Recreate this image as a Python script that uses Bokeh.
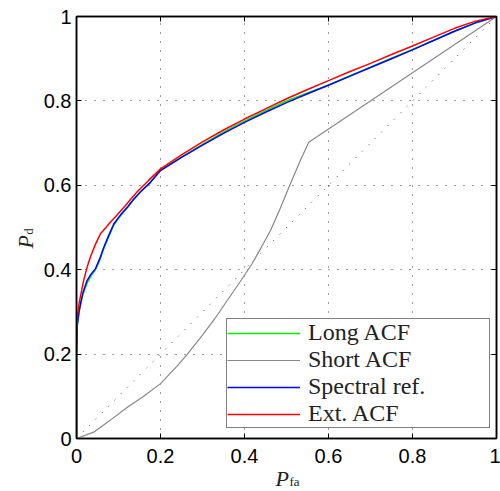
from math import pi
from bokeh.plotting import figure
from bokeh.models import (Legend, LegendItem, LinearAxis, FixedTicker, Label,
                          Range1d)
from bokeh.embed import file_html
from bokeh.resources import INLINE

# ---------------- data ----------------
tick_vals = [0, 0.2, 0.4, 0.6, 0.8, 1]
tick_labels = ["0", "0.2", "0.4", "0.6", "0.8", "1"]

chance_x = [0, 1]
chance_y = [0, 1]

ext_x = [0, 0, 0.002, 0.006, 0.012, 0.017, 0.025, 0.033, 0.045, 0.057, 0.07,
         0.081, 0.095, 0.113, 0.13, 0.144, 0.171, 0.2, 0.25, 0.3, 0.35, 0.4,
         0.45, 0.5, 0.55, 0.6, 0.65, 0.7, 0.75, 0.8, 0.85, 0.9, 0.95, 1.0]
ext_y = [0, 0.22, 0.29, 0.32, 0.35, 0.374, 0.405, 0.43, 0.46, 0.485, 0.50,
         0.513, 0.528, 0.548, 0.568, 0.584, 0.611, 0.639, 0.672, 0.703, 0.731,
         0.757, 0.781, 0.805, 0.827, 0.848, 0.869, 0.889, 0.910, 0.930, 0.951,
         0.972, 0.989, 1.0]

spec_x = [0, 0, 0.002, 0.006, 0.0095, 0.015, 0.025, 0.035, 0.045, 0.055,
          0.065, 0.077, 0.089, 0.105, 0.121, 0.136, 0.152, 0.176, 0.2, 0.25,
          0.3, 0.35, 0.4, 0.45, 0.5, 0.55, 0.6, 0.65, 0.7, 0.75, 0.8, 0.85,
          0.9, 0.95, 1.0]
spec_y = [0, 0.2, 0.27, 0.30, 0.319, 0.345, 0.374, 0.39, 0.402, 0.425, 0.453,
          0.482, 0.509, 0.53, 0.548, 0.567, 0.584, 0.607, 0.635, 0.666, 0.695,
          0.723, 0.749, 0.773, 0.796, 0.817, 0.837, 0.858, 0.879, 0.900, 0.921,
          0.943, 0.965, 0.985, 1.0]

long_x = spec_x
long_y = [0, 0.2, 0.27, 0.30, 0.315, 0.34, 0.368, 0.386, 0.40, 0.422, 0.45,
          0.479, 0.506, 0.528, 0.547, 0.566, 0.584, 0.607, 0.636, 0.667, 0.697,
          0.726, 0.752, 0.777, 0.800, 0.819, 0.838, 0.859, 0.880, 0.901, 0.922,
          0.943, 0.965, 0.985, 1.0]

short_x = [0, 0.041, 0.08, 0.121, 0.16, 0.2, 0.24, 0.264, 0.3, 0.33, 0.359,
           0.39, 0.418, 0.44, 0.462, 0.485, 0.506, 0.533, 0.553, 1.0]
short_y = [0, 0.015, 0.043, 0.074, 0.10, 0.13, 0.172, 0.2, 0.245, 0.285,
           0.327, 0.372, 0.414, 0.453, 0.493, 0.545, 0.596, 0.659, 0.702, 1.0]

series_names = ["Long ACF", "Short ACF", "Spectral ref.", "Ext. ACF"]
series_colors = ["#00ee00", "#888888", "#0000ff", "#ff0000"]

# ---------------- figure ----------------
p = figure(width=500, height=491, output_backend="svg", toolbar_location=None,
           x_range=Range1d(0, 1), y_range=Range1d(0, 1),
           min_border_left=76, min_border_right=4, min_border_top=16,
           min_border_bottom=53, background_fill_color="white",
           border_fill_color="white")
p.outline_line_color = "black"
p.outline_line_width = 1.5

p.add_layout(LinearAxis(), "above")
p.add_layout(LinearAxis(), "right")

overrides = {v: s for v, s in zip(tick_vals, tick_labels)}
for ax in p.axis:
    ax.ticker = FixedTicker(ticks=tick_vals)
    ax.major_label_overrides = overrides
    ax.minor_tick_line_color = None
    ax.major_tick_in = 5
    ax.major_tick_out = 0
    ax.major_tick_line_color = "black"
    ax.major_tick_line_width = 1
    ax.axis_line_color = "black"
    ax.axis_line_width = 1.5
    ax.major_label_text_font = "Liberation Sans"
    ax.major_label_text_font_size = "20px"
    ax.major_label_text_color = "black"
for ax in p.above + p.right:
    ax.major_label_text_font_size = "1px"
    ax.major_label_text_color = None
    ax.major_label_standoff = 0
p.below[0].major_label_standoff = 10
p.left[0].major_label_standoff = 5

for g in p.grid:
    g.ticker = FixedTicker(ticks=tick_vals)
    g.grid_line_color = "black"
    g.grid_line_alpha = 0.75
    g.grid_line_width = 1
    g.grid_line_dash = "1 8"

# chance diagonal
p.line(chance_x, chance_y, line_color="black", line_alpha=0.75, line_width=1,
       line_dash="1 8")

r_long = p.line(long_x, long_y, line_color=series_colors[0], line_width=1.5)
r_short = p.line(short_x, short_y, line_color=series_colors[1], line_width=1.2)
r_spec = p.line(spec_x, spec_y, line_color=series_colors[2], line_width=1.5)
r_ext = p.line(ext_x, ext_y, line_color=series_colors[3], line_width=1.5)

legend = Legend(items=[LegendItem(label=n, renderers=[r]) for n, r in
                       zip(series_names, [r_long, r_short, r_spec, r_ext])],
                location=(150, 10), padding=0, spacing=0, margin=0,
                glyph_width=73, glyph_height=20, label_standoff=8,
                label_height=24, label_width=181,
                label_text_font="Liberation Serif",
                label_text_font_size="24px", label_text_color="#222222",
                border_line_color="black", border_line_width=1.5,
                background_fill_color="white", background_fill_alpha=1)
p.add_layout(legend, "center")

# axis titles: placed in side panels (with spare room) so they are not
# clipped to the frame; positions are given relative to the frame.
p.add_layout(Label(x=0.474, y=0, y_offset=-40, text="P",
                   text_font="Liberation Serif", text_font_style="italic",
                   text_font_size="22px", text_color="#222222",
                   text_baseline="alphabetic", text_align="left"), "below")
p.add_layout(Label(x=0.507, y=0, y_offset=-43, text="fa",
                   text_font="Liberation Serif", text_font_size="13px",
                   text_color="#222222", text_baseline="alphabetic",
                   text_align="left"), "above")
p.add_layout(Label(x=0, x_offset=-51, y=0.45, text="P", angle=pi / 2,
                   text_font="Liberation Serif", text_font_style="italic",
                   text_font_size="22px", text_color="#222222",
                   text_baseline="alphabetic", text_align="left"), "left")
p.add_layout(Label(x=0, x_offset=-48, y=0.483, text="d", angle=pi / 2,
                   text_font="Liberation Serif", text_font_size="13px",
                   text_color="#222222", text_baseline="alphabetic",
                   text_align="left"), "left")

open("out.html", "w").write(file_html(p, INLINE))
